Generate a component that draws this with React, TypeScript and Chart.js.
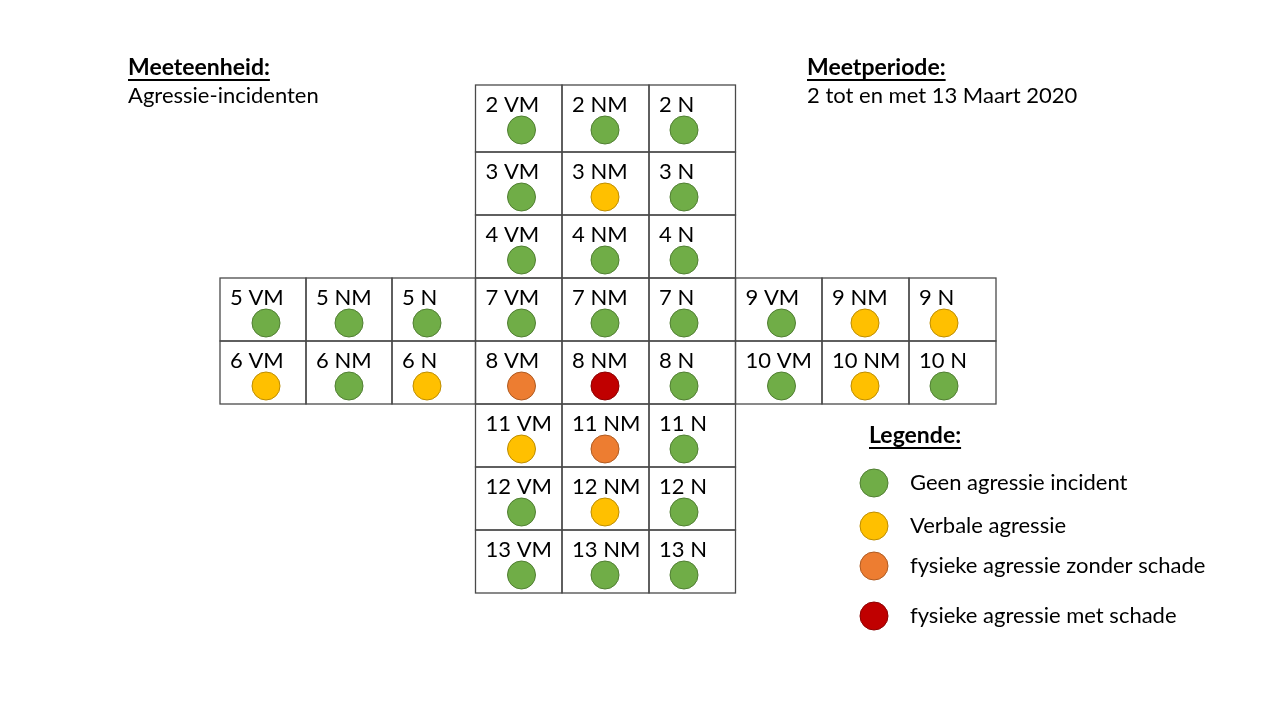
import React, { useEffect, useRef } from "react";
import { Chart, registerables } from "chart.js";

Chart.register(...registerables);

// ---- data ----
const days = ["2", "3", "4", "5", "6", "7", "8", "9", "10", "11", "12", "13"];
const shifts = ["VM", "NM", "N"];
// 0 = geen, 1 = verbaal, 2 = fysiek zonder schade, 3 = fysiek met schade
const day2 = [0, 0, 0];
const day3 = [0, 1, 0];
const day4 = [0, 0, 0];
const day5 = [0, 0, 0];
const day6 = [1, 0, 1];
const day7 = [0, 0, 0];
const day8 = [2, 3, 0];
const day9 = [0, 1, 1];
const day10 = [0, 1, 0];
const day11 = [1, 2, 0];
const day12 = [0, 1, 0];
const day13 = [0, 0, 0];
const statusByDay = [day2, day3, day4, day5, day6, day7, day8, day9, day10, day11, day12, day13];
const legendLabels = [
  "Geen agressie incident",
  "Verbale agressie",
  "fysieke agressie zonder schade",
  "fysieke agressie met schade",
];

// ---- layout (cross shape): block column (0 left, 1 middle, 2 right) and row per day ----
const dayBlockCol = [1, 1, 1, 0, 0, 1, 1, 2, 2, 1, 1, 1];
const dayRow = [0, 1, 2, 3, 4, 3, 4, 3, 4, 5, 6, 7];
const colEdges = [220, 306, 392, 475.5, 562, 649, 735.5, 822, 909, 996];
const rowEdges = [85, 152, 215, 278, 341, 404, 467, 530, 593];
const dotOffsetX = [46, 43, 35];
const dotOffsetY = 45;
const legendDotX = 874;
const legendDotY = [483, 526, 566, 616];

const fills = ["#70AD47", "#FFC000", "#ED7D31", "#C00000"];
const borders = ["#507E32", "#BC8C00", "#AE5A21", "#8C0000"];
const FONT = "Lato, 'Open Sans', sans-serif";

export default function App() {
  const ref = useRef<HTMLCanvasElement | null>(null);

  useEffect(() => {
    document.body.style.margin = "0";
    const canvas = ref.current!;
    const dots: { x: number; y: number; s: number }[] = [];
    days.forEach((d, i) => {
      shifts.forEach((_, j) => {
        const c = dayBlockCol[i] * 3 + j;
        const r = dayRow[i];
        dots.push({ x: colEdges[c] + dotOffsetX[j], y: rowEdges[r] + dotOffsetY, s: statusByDay[i][j] });
      });
    });
    const legendDots = legendLabels.map((_, k) => ({ x: legendDotX, y: legendDotY[k], s: k }));

    const gridPlugin = {
      id: "gridPlugin",
      beforeDatasetsDraw(chart: any) {
        const ctx = chart.ctx;
        const xs = chart.scales.x;
        const ys = chart.scales.y;
        ctx.save();
        ctx.strokeStyle = "#4a4a4a";
        ctx.lineWidth = 1.3;
        days.forEach((d, i) => {
          shifts.forEach((s, j) => {
            const c = dayBlockCol[i] * 3 + j;
            const r = dayRow[i];
            const x0 = xs.getPixelForValue(colEdges[c]);
            const x1 = xs.getPixelForValue(colEdges[c + 1]);
            const y0 = ys.getPixelForValue(rowEdges[r]);
            const y1 = ys.getPixelForValue(rowEdges[r + 1]);
            ctx.strokeRect(x0, y0, x1 - x0, y1 - y0);
            ctx.fillStyle = "#000";
            ctx.font = `22px ${FONT}`;
            ctx.textBaseline = "alphabetic";
            ctx.textAlign = "left";
            ctx.fillText(`${d} ${s}`, x0 + 10, y0 + 27);
          });
        });
        ctx.restore();
      },
      afterDatasetsDraw(chart: any) {
        const ctx = chart.ctx;
        const xs = chart.scales.x;
        const ys = chart.scales.y;
        ctx.save();
        ctx.fillStyle = "#000";
        ctx.textAlign = "left";
        ctx.textBaseline = "alphabetic";
        const under = (t: string, x: number, y: number) => {
          ctx.font = `bold 23px ${FONT}`;
          ctx.fillText(t, x, y);
          const w = ctx.measureText(t).width;
          ctx.fillRect(x, y + 4, w, 2);
        };
        under("Meeteenheid:", 128, 75);
        under("Meetperiode:", 807, 75);
        under("Legende:", 869, 443);
        ctx.font = `22px ${FONT}`;
        ctx.fillText("Agressie-incidenten", 128, 103);
        ctx.fillText("2 tot en met 13 Maart 2020", 807, 103);
        legendLabels.forEach((l, k) => {
          ctx.fillText(l, xs.getPixelForValue(910), ys.getPixelForValue(legendDotY[k] + 7));
        });
        ctx.restore();
      },
    };

    const chart = new Chart(canvas, {
      type: "scatter",
      data: {
        datasets: [
          {
            data: dots.map((p) => ({ x: p.x, y: p.y })),
            pointRadius: 14,
            pointHoverRadius: 14,
            pointBackgroundColor: dots.map((p) => fills[p.s]),
            pointBorderColor: dots.map((p) => borders[p.s]),
            pointBorderWidth: 1,
            clip: false,
          },
          {
            data: legendDots.map((p) => ({ x: p.x, y: p.y })),
            pointRadius: 14,
            pointHoverRadius: 14,
            pointBackgroundColor: legendDots.map((p) => fills[p.s]),
            pointBorderColor: legendDots.map((p) => borders[p.s]),
            pointBorderWidth: 1,
            clip: false,
          },
        ],
      },
      options: {
        animation: false,
        responsive: false,
        maintainAspectRatio: false,
        layout: { padding: 0, autoPadding: false },
        events: [],
        plugins: { legend: { display: false }, tooltip: { enabled: false } },
        scales: {
          x: { type: "linear", min: 0, max: 1280, display: false },
          y: { type: "linear", min: 0, max: 720, reverse: true, display: false },
        },
      },
      plugins: [gridPlugin],
    });
    return () => chart.destroy();
  }, []);

  return (
    <div style={{ width: 1280, height: 720, background: "#fff" }}>
      <canvas ref={ref} width={1280} height={720} style={{ display: "block", width: 1280, height: 720 }} />
    </div>
  );
}
